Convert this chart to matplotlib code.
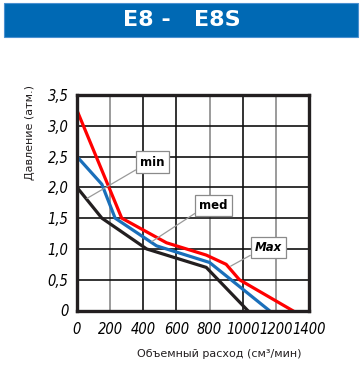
import matplotlib
matplotlib.use("Agg")
import matplotlib.pyplot as plt
from matplotlib.patches import Rectangle
from matplotlib import font_manager as fm

# Data
max_x = [0, 270, 540, 780, 900, 980, 1300]
max_y = [3.25, 1.5, 1.1, 0.9, 0.75, 0.5, 0.0]
med_x = [0, 150, 230, 480, 800, 1160]
med_y = [2.5, 2.05, 1.5, 1.05, 0.78, 0.0]
min_x = [0, 150, 420, 780, 1030]
min_y = [2.0, 1.5, 1.0, 0.7, 0.0]

x_ticks = [0, 200, 400, 600, 800, 1000, 1200, 1400]
y_ticks = [0, 0.5, 1.0, 1.5, 2.0, 2.5, 3.0, 3.5]
y_tick_labels = ["0", "0,5", "1,0", "1,5", "2,0", "2,5", "3,0", "3,5"]

title = "E8 -   E8S"
xlabel = "Объемный расход (см³/мин)"
ylabel = "Давление (атм.)"

# pick a condensed face for the tick labels if one exists
tick_props = None
for f in fm.fontManager.ttflist:
    if f.name == "Liberation Sans Narrow":
        tick_props = fm.FontProperties(fname=f.fname, size=11)
        break
if tick_props is None:
    for f in fm.fontManager.ttflist:
        if f.name == "DejaVu Sans" and str(f.stretch) in ("condensed", "semi-condensed") \
                and f.weight in (400, "normal", "book", "regular"):
            tick_props = fm.FontProperties(fname=f.fname, size=10.5)
            break
if tick_props is None:
    tick_props = fm.FontProperties(family="Liberation Sans", size=10)

W, H = 360, 388
fig = plt.figure(figsize=(W / 100, H / 100), dpi=100)
fig.patch.set_facecolor("white")

# Title bar
fig.patches.append(Rectangle((4 / W, 1 - 37 / H), 354 / W, 34 / H,
                             transform=fig.transFigure, facecolor="#0069b4",
                             edgecolor="#4a90d0", linewidth=0.8))
fig.text(182 / W, 1 - 20 / H, title, color="white", fontsize=16,
         fontweight="bold", ha="center", va="center", family="DejaVu Sans")

ax = fig.add_axes([77 / W, 1 - 310.5 / H, 232 / W, 215.5 / H])
ax.set_xlim(0, 1400)
ax.set_ylim(0, 3.5)

# Grid
for xv in x_ticks[1:-1]:
    c = "#8a8a8a" if xv in (200, 800, 1200) else "#111111"
    ax.axvline(xv, color=c, lw=1.2, zorder=1)
for yv in y_ticks[1:-1]:
    ax.axhline(yv, color="#111111", lw=1.2, zorder=1)

ax.plot(min_x, min_y, color="#231f20", lw=2.3, zorder=3, solid_joinstyle="miter")
ax.plot(med_x, med_y, color="#1a6fba", lw=2.3, zorder=4, solid_joinstyle="miter")
ax.plot(max_x, max_y, color="#ff0000", lw=2.3, zorder=5, solid_joinstyle="miter")

for s in ax.spines.values():
    s.set_linewidth(2.4)
    s.set_color("#231f20")
    s.set_zorder(6)

ax.set_xticks(x_ticks)
ax.set_xticklabels([str(v) for v in x_ticks], fontproperties=tick_props)
ax.set_yticks(y_ticks)
ax.set_yticklabels(y_tick_labels, fontproperties=tick_props)
ax.tick_params(axis="x", length=0, pad=8)
ax.tick_params(axis="y", length=0, pad=6)

# Labels
box = dict(boxstyle="square,pad=0.35", facecolor="white", edgecolor="#8a8a8a", lw=0.9)
arrow = dict(arrowstyle="-", color="#9a9a9a", lw=0.9, relpos=(0.0, 0.1), shrinkA=0, shrinkB=0)
ax.annotate("min", xy=(60, 1.82), xytext=(455, 2.41), ha="center", va="center",
            fontsize=8.5, fontweight="bold", bbox=box, arrowprops=arrow, zorder=7)
ax.annotate("med", xy=(452, 1.12), xytext=(825, 1.71), ha="center", va="center",
            fontsize=8.5, fontweight="bold", bbox=box, arrowprops=arrow, zorder=7)
ax.annotate("Max", xy=(927, 0.72), xytext=(1155, 1.02), ha="center", va="center",
            fontsize=8.5, fontweight="bold", fontstyle="italic", bbox=box,
            arrowprops=arrow, zorder=7)

fig.text(219 / W, 1 - 354 / H, xlabel, fontsize=8, ha="center", va="center",
         color="#231f20")
fig.text(30 / W, 1 - 132 / H, ylabel, fontsize=8, ha="center", va="center",
         rotation=90, color="#231f20")

fig.savefig("out.png", dpi=100)
